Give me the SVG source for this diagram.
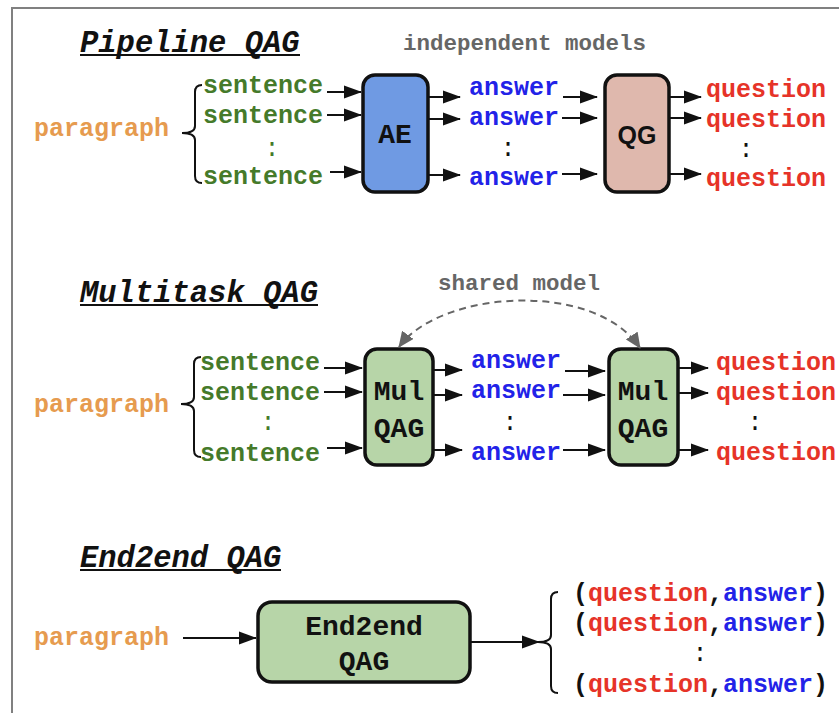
<svg xmlns="http://www.w3.org/2000/svg" width="839" height="713" viewBox="0 0 839 713">
<style>
.t{font-family:"Liberation Mono","Courier New",monospace;font-weight:bold;font-size:25px}
.c{font-weight:normal}
.title{font-family:"Liberation Mono","Courier New",monospace;font-weight:bold;font-style:italic;font-size:30.5px;fill:#111}
.note{font-family:"Liberation Mono","Courier New",monospace;font-weight:bold;font-size:22.5px;fill:#666}
.para{fill:#e69b4f}
.sent{fill:#457a2a}
.ans{fill:#2222e8}
.q{fill:#e63328}
.blk{fill:#111}
.box{stroke:#111;stroke-width:3.5}
.lbl{font-family:"Liberation Mono","Courier New",monospace;font-weight:bold;font-size:28px;fill:#111;text-anchor:middle}
.arr{stroke:#111;stroke-width:2;fill:none;marker-end:url(#ah)}
.brace{stroke:#111;stroke-width:2;fill:none}
.ul{stroke:#111;stroke-width:2}
</style>
<defs>
<marker id="ah" markerUnits="userSpaceOnUse" markerWidth="18" markerHeight="14" refX="17" refY="7" orient="auto">
<path d="M0,0.5 L18,7 L0,13.5 z" fill="#111"/>
</marker>
<marker id="gh" markerUnits="userSpaceOnUse" markerWidth="16" markerHeight="14" refX="15" refY="7" orient="auto-start-reverse">
<path d="M0,0 L16,7 L0,14 z" fill="#666"/>
</marker>
</defs>
<rect x="12" y="8" width="840" height="720" fill="#ffffff" stroke="#808080" stroke-width="2"/>

<!-- Section titles -->
<g id="title-pipeline"><text class="title" x="80" y="52">Pipeline QAG</text><line class="ul" x1="80" y1="55" x2="300" y2="55"/></g>
<g id="title-multitask"><text class="title" x="80" y="302">Multitask QAG</text><line class="ul" x1="80" y1="305" x2="318" y2="305"/></g>
<g id="title-end2end"><text class="title" x="80" y="567">End2end QAG</text><line class="ul" x1="80" y1="570" x2="281" y2="570"/></g>

<text class="note" x="403" y="50">independent models</text>
<text class="note" x="438" y="290">shared model</text>

<!-- Pipeline row -->
<g id="p-paragraph"><text class="t para" x="34" y="136">paragraph</text></g>
<g id="p-sentences">
<text class="t sent" x="203" y="93">sentence</text>
<text class="t sent" x="203" y="123">sentence</text>
<text class="t sent c" x="272" y="156" text-anchor="middle">:</text>
<text class="t sent" x="203" y="184">sentence</text>
</g>
<g id="p-AE"><rect class="box" x="363" y="75" width="65" height="117" rx="12" fill="#6f9ae3"/><text class="lbl" x="395" y="143">AE</text></g>
<g id="p-answers">
<text class="t ans" x="469" y="95">answer</text>
<text class="t ans" x="469" y="125">answer</text>
<text class="t blk c" x="508" y="156" text-anchor="middle">:</text>
<text class="t ans" x="469" y="185">answer</text>
</g>
<g id="p-QG"><rect class="box" x="605" y="75" width="64" height="117" rx="12" fill="#dfb8ad"/><text x="637" y="144" text-anchor="middle" font-family="Liberation Sans, Arial, sans-serif" font-weight="bold" font-size="25" fill="#111">QG</text></g>
<g id="p-questions">
<text class="t q" x="706" y="97">question</text>
<text class="t q" x="706" y="127">question</text>
<text class="t blk c" x="746" y="157" text-anchor="middle">:</text>
<text class="t q" x="706" y="186">question</text>
</g>

<!-- Multitask row -->
<g id="m-paragraph"><text class="t para" x="34" y="412">paragraph</text></g>
<g id="m-sentences">
<text class="t sent" x="200" y="370">sentence</text>
<text class="t sent" x="200" y="400">sentence</text>
<text class="t sent c" x="268" y="430" text-anchor="middle">:</text>
<text class="t sent" x="200" y="461">sentence</text>
</g>
<g id="m-mul1"><rect class="box" x="365" y="349" width="68" height="116" rx="12" fill="#b7d5a8"/><text class="lbl" x="399" y="400">Mul</text><text class="lbl" x="399" y="437">QAG</text></g>
<g id="m-answers">
<text class="t ans" x="471" y="368">answer</text>
<text class="t ans" x="471" y="398">answer</text>
<text class="t blk c" x="510" y="430" text-anchor="middle">:</text>
<text class="t ans" x="471" y="460">answer</text>
</g>
<g id="m-mul2"><rect class="box" x="609" y="349" width="69" height="116" rx="12" fill="#b7d5a8"/><text class="lbl" x="643" y="400">Mul</text><text class="lbl" x="643" y="437">QAG</text></g>
<g id="m-questions">
<text class="t q" x="716" y="370">question</text>
<text class="t q" x="716" y="400">question</text>
<text class="t blk c" x="755" y="430" text-anchor="middle">:</text>
<text class="t q" x="716" y="460">question</text>
</g>

<!-- End2end row -->
<g id="e-paragraph"><text class="t para" x="34" y="645">paragraph</text></g>
<g id="e-box"><rect class="box" x="258" y="602" width="212" height="80" rx="14" fill="#b7d5a8"/><text class="lbl" x="364" y="635">End2end</text><text class="lbl" x="364" y="670">QAG</text></g>
<g id="e-pairs">
<text class="t blk" x="573" y="601">(<tspan class="q">question</tspan>,<tspan class="ans">answer</tspan>)</text>
<text class="t blk" x="573" y="631">(<tspan class="q">question</tspan>,<tspan class="ans">answer</tspan>)</text>
<text class="t blk c" x="700" y="661" text-anchor="middle">:</text>
<text class="t blk" x="573" y="692">(<tspan class="q">question</tspan>,<tspan class="ans">answer</tspan>)</text>
</g>

<!-- Connectors -->
<g id="connectors">
<path class="brace" d="M202 85 Q195 85 195 92 L195 126 Q195 133 182 133 Q195 133 195 140 L195 176 Q195 183 202 183"/>
<path class="brace" d="M201 357 Q194 357 194 364 L194 397 Q194 404 181 404 Q194 404 194 411 L194 450 Q194 457 201 457"/>
<path class="brace" d="M558 592 Q551 592 551 599 L551 635 Q551 642 538 642 Q551 642 551 649 L551 686 Q551 693 558 693"/>

<line class="arr" x1="327" y1="92" x2="361" y2="92"/>
<line class="arr" x1="327" y1="115" x2="361" y2="115"/>
<line class="arr" x1="330" y1="172" x2="361" y2="172"/>
<line class="arr" x1="428" y1="97" x2="460" y2="97"/>
<line class="arr" x1="428" y1="119" x2="460" y2="119"/>
<line class="arr" x1="428" y1="175" x2="460" y2="175"/>
<line class="arr" x1="563" y1="97" x2="597" y2="97"/>
<line class="arr" x1="562" y1="118" x2="597" y2="118"/>
<line class="arr" x1="562" y1="174" x2="597" y2="174"/>
<line class="arr" x1="669" y1="97" x2="701" y2="97"/>
<line class="arr" x1="669" y1="118" x2="701" y2="118"/>
<line class="arr" x1="669" y1="174" x2="701" y2="174"/>

<line class="arr" x1="324" y1="368" x2="362" y2="368"/>
<line class="arr" x1="324" y1="392" x2="362" y2="392"/>
<line class="arr" x1="327" y1="448" x2="362" y2="448"/>
<line class="arr" x1="433" y1="370" x2="462" y2="370"/>
<line class="arr" x1="433" y1="395" x2="462" y2="395"/>
<line class="arr" x1="433" y1="450" x2="462" y2="450"/>
<line class="arr" x1="565" y1="371" x2="605" y2="371"/>
<line class="arr" x1="563" y1="395" x2="605" y2="395"/>
<line class="arr" x1="563" y1="450" x2="605" y2="450"/>
<line class="arr" x1="678" y1="368" x2="708" y2="368"/>
<line class="arr" x1="678" y1="393" x2="708" y2="393"/>
<line class="arr" x1="678" y1="450" x2="708" y2="450"/>

<path d="M399 347 C440 290 595 280 640 348" fill="none" stroke="#666" stroke-width="2" stroke-dasharray="7,5" marker-start="url(#gh)" marker-end="url(#gh)"/>

<line class="arr" x1="183" y1="638" x2="256" y2="638"/>
<line class="arr" x1="470" y1="642" x2="539" y2="642"/>
</g>
</svg>
